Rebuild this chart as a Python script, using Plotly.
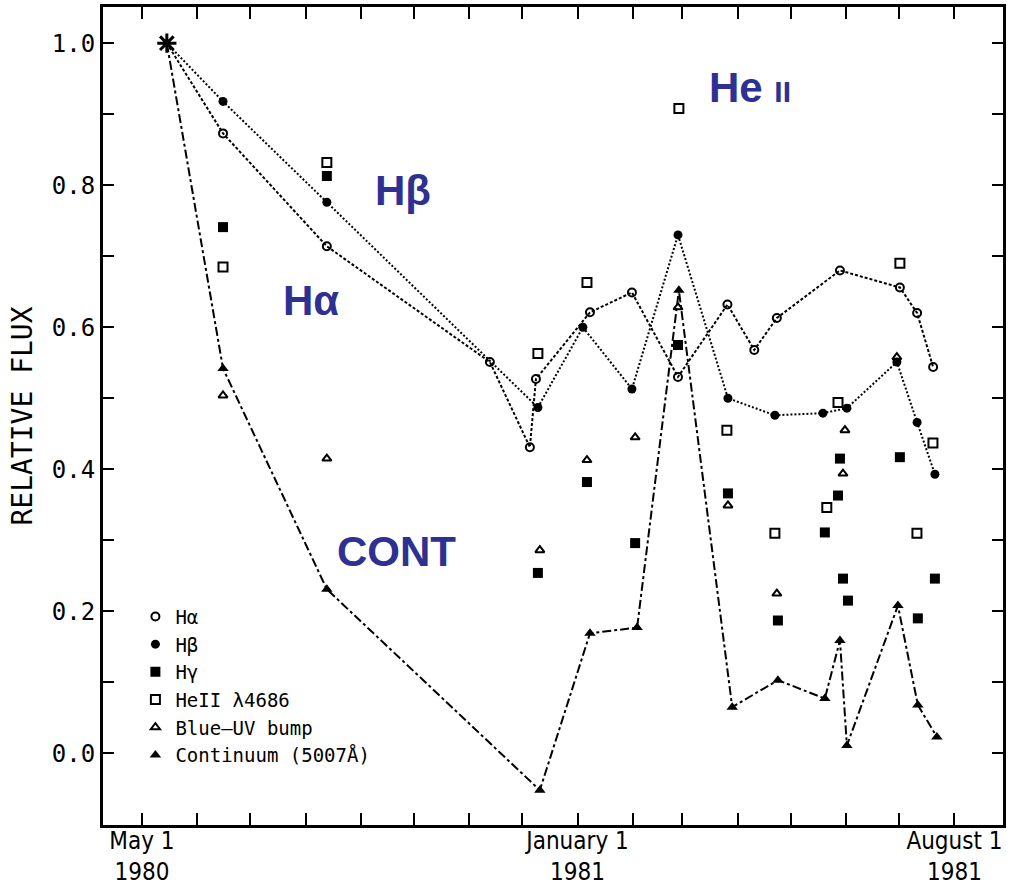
import plotly.graph_objects as go

# x values: days since 1980 May 1 ; y values: relative flux
ha_days = [14, 45.6, 104, 195.7, 218.2, 221.6, 252, 275.6, 301.5, 329.3, 344.4, 357.1, 392.6, 426.3, 436, 445]
ha_flux = [1.0, 0.873, 0.714, 0.551, 0.431, 0.527, 0.621, 0.649, 0.530, 0.632, 0.568, 0.613, 0.680, 0.656, 0.620, 0.544]

hb_days = [14, 45.6, 104, 222.7, 248, 275.6, 301.5, 329.6, 356, 383, 396.5, 424.6, 436, 446]
hb_flux = [1.0, 0.918, 0.776, 0.487, 0.600, 0.513, 0.730, 0.500, 0.476, 0.479, 0.486, 0.551, 0.466, 0.393]

hg_days = [45.6, 104, 222.7, 250.3, 277.4, 301.5, 329.6, 357.7, 384.1, 391.5, 392.6, 394.3, 397.1, 426.3, 436.4, 446]
hg_flux = [0.741, 0.813, 0.254, 0.382, 0.296, 0.575, 0.366, 0.187, 0.311, 0.363, 0.415, 0.246, 0.215, 0.417, 0.190, 0.246]

he_days = [45.6, 104, 222.7, 250.3, 302, 329, 356, 385.2, 391.5, 426.3, 435.9, 444.9]
he_flux = [0.685, 0.832, 0.563, 0.663, 0.908, 0.455, 0.310, 0.346, 0.494, 0.690, 0.310, 0.437]

uv_days = [45.6, 104, 223.8, 250.3, 277.4, 301.5, 329.6, 357.1, 394.3, 395.4, 424.6]
uv_flux = [0.504, 0.415, 0.286, 0.413, 0.445, 0.628, 0.349, 0.225, 0.394, 0.455, 0.558]

ct_days = [14, 45.6, 104, 223.8, 252, 278.5, 302, 332, 357.7, 384.1, 392.6, 396.5, 425.2, 436.4, 447.1]
ct_flux = [1.0, 0.542, 0.231, -0.052, 0.169, 0.177, 0.652, 0.065, 0.103, 0.077, 0.159, 0.011, 0.208, 0.068, 0.023]

month_days = [0, 31, 61, 92, 123, 153, 184, 214, 245, 276, 304, 335, 365, 396, 426, 457]
month_text = ["May 1<br>1980", "", "", "", "", "", "", "", "January 1<br>1981",
              "", "", "", "", "", "", "August 1<br>1981"]

y_ticks = [0.0, 0.1, 0.2, 0.3, 0.4, 0.5, 0.6, 0.7, 0.8, 0.9, 1.0]
y_text = ["0.0", "", "0.2", "", "0.4", "", "0.6", "", "0.8", "", "1.0"]

MONO = "DejaVu Sans Mono"
NARROW = "Liberation Sans Narrow, DejaVu Sans Condensed, Liberation Sans"
BLUE = "#2E3192"

fig = go.Figure()

# connecting lines (not in legend)
fig.add_trace(go.Scatter(x=ha_days, y=ha_flux, mode="lines", showlegend=False,
                         line=dict(color="black", width=2, dash="3px,2px")))
fig.add_trace(go.Scatter(x=hb_days, y=hb_flux, mode="lines", showlegend=False,
                         line=dict(color="black", width=2, dash="2px,2px")))
fig.add_trace(go.Scatter(x=ct_days, y=ct_flux, mode="lines", showlegend=False,
                         line=dict(color="black", width=2, dash="9px,3px,3px,3px")))

# markers (legend)
fig.add_trace(go.Scatter(x=ha_days[1:], y=ha_flux[1:], mode="markers", name="H\u03b1",
                         marker=dict(symbol="circle-open", size=8, color="black", line=dict(width=2))))
fig.add_trace(go.Scatter(x=hb_days[1:], y=hb_flux[1:], mode="markers", name="H\u03b2",
                         marker=dict(symbol="circle", size=9, color="black")))
fig.add_trace(go.Scatter(x=hg_days, y=hg_flux, mode="markers", name="H\u03b3",
                         marker=dict(symbol="square", size=10, color="black")))
fig.add_trace(go.Scatter(x=he_days, y=he_flux, mode="markers", name="HeII \u03bb4686",
                         marker=dict(symbol="square-open", size=9, color="black", line=dict(width=2))))
fig.add_trace(go.Scatter(x=uv_days, y=uv_flux, mode="markers", name="Blue\u2013UV bump",
                         marker=dict(symbol="triangle-up-open", size=8, color="black", line=dict(width=2))))
fig.add_trace(go.Scatter(x=ct_days[1:], y=ct_flux[1:], mode="markers", name="Continuum (5007\u00c5)",
                         marker=dict(symbol="triangle-up", size=10, color="black")))

# normalisation point
fig.add_trace(go.Scatter(x=ha_days[:1], y=ha_flux[:1], mode="markers", showlegend=False,
                         marker=dict(symbol="asterisk-open", size=16, color="black", line=dict(width=3, color="black"))))

annots = [
    dict(text="<b>He <span style='font-size:30px'>II</span></b>", x=342, y=0.938),
    dict(text="<b>H\u03b2</b>", x=147, y=0.793),
    dict(text="<b>H\u03b1</b>", x=95, y=0.637),
    dict(text="<b>CONT</b>", x=143, y=0.284),
]
for a in annots:
    fig.add_annotation(text=a["text"], x=a["x"], y=a["y"], xref="x", yref="y", showarrow=False,
                       font=dict(family="Liberation Sans, Arial", size=42, color=BLUE))

fig.update_layout(
    width=1011, height=887,
    margin=dict(l=103, r=8, t=7, b=62, autoexpand=False),
    paper_bgcolor="white", plot_bgcolor="white",
    font=dict(family=MONO, color="black"),
    legend=dict(x=0.036, y=0.278, xanchor="left", yanchor="top", bgcolor="rgba(0,0,0,0)",
                font=dict(family=MONO, size=19, color="black"), tracegroupgap=0, itemwidth=30),
    xaxis=dict(range=[-21.9, 484.3], tickmode="array", tickvals=month_days, ticktext=month_text,
               ticks="inside", ticklen=12, tickwidth=2, tickcolor="black",
               showline=True, linewidth=3, linecolor="black", mirror="ticks",
               showgrid=False, zeroline=False, ticklabelstandoff=-8, automargin=False,
               tickfont=dict(family=NARROW, size=24, color="black")),
    yaxis=dict(range=[-0.101, 1.051], tickmode="array", tickvals=y_ticks, ticktext=y_text,
               ticks="inside", ticklen=11, tickwidth=2, tickcolor="black",
               showline=True, linewidth=3, linecolor="black", mirror="ticks",
               showgrid=False, zeroline=False, automargin=False,
               tickfont=dict(family=MONO, size=24, color="black"),
               title=dict(text="RELATIVE FLUX", standoff=12,
                          font=dict(family=MONO, size=28, color="black"))),
)

fig.write_html("out.html")
